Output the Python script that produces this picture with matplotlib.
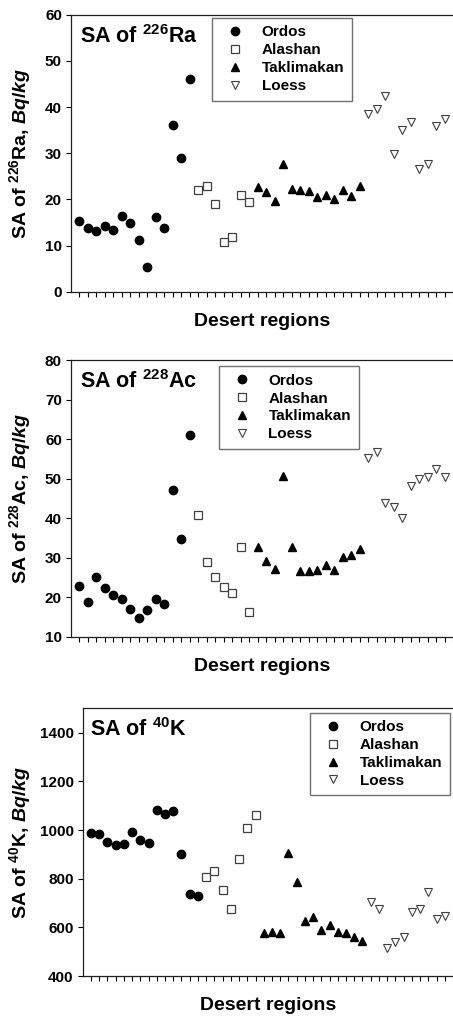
import numpy as np
import matplotlib
matplotlib.use("Agg")
import matplotlib.pyplot as plt

plt.rcParams['font.family'] = ['Liberation Sans', 'DejaVu Sans']
plt.rcParams['font.weight'] = 'bold'
plt.rcParams['mathtext.fontset'] = 'custom'
plt.rcParams['mathtext.default'] = 'bf'
plt.rcParams['mathtext.bf'] = 'Liberation Sans:bold'
plt.rcParams['mathtext.it'] = 'Liberation Sans:italic:bold'
plt.rcParams['mathtext.rm'] = 'Liberation Sans:bold'

groups = ['Ordos', 'Alashan', 'Taklimakan', 'Loess']

# SA of 226Ra
ra_ordos = [15.4, 13.7, 13.2, 14.2, 13.4, 16.5, 14.9, 11.2, 5.3, 16.2, 13.7, 36.2, 28.9, 46.1]
ra_alashan = [22.1, 23.0, 19.0, 10.8, 11.8, 21.0, 19.4]
ra_takli = [22.6, 21.5, 19.6, 27.6, 22.3, 22.1, 21.9, 20.5, 20.9, 20.0, 22.1, 20.7, 23.0]
ra_loess = [38.5, 39.5, 42.5, 29.8, 35.1, 36.8, 26.5, 27.7, 36.0, 37.4]

# SA of 228Ac
ac_ordos = [22.7, 18.8, 25.1, 22.2, 20.6, 19.4, 17.1, 14.7, 16.8, 19.5, 18.3, 47.1, 34.8, 61.0]
ac_alashan = [40.9, 28.8, 25.1, 22.5, 21.1, 32.8, 16.3]
ac_takli = [32.6, 29.2, 27.0, 50.7, 32.7, 26.5, 26.5, 26.8, 28.1, 26.9, 30.1, 30.7, 32.1]
ac_loess = [55.3, 56.6, 43.7, 42.7, 40.1, 48.2, 49.9, 50.5, 52.3, 50.5]

# SA of 40K
k_ordos = [986, 985, 949, 938, 942, 992, 958, 948, 1082, 1066, 1077, 903, 736, 729]
k_alashan = [808, 832, 753, 675, 882, 1008, 1062]
k_takli = [575, 582, 575, 905, 786, 627, 644, 588, 608, 582, 577, 560, 545]
k_loess = [703, 677, 515, 541, 562, 662, 677, 747, 633, 645]

styles = [
    dict(marker='o', color='black', mfc='black', mec='black', ms=6),
    dict(marker='s', color='#404040', mfc='white', mec='#404040', ms=5.2, mew=0.9),
    dict(marker='^', color='black', mfc='black', mec='black', ms=6),
    dict(marker='v', color='#404040', mfc='white', mec='#404040', ms=6, mew=0.8),
]

panels = [
    dict(data=[ra_ordos, ra_alashan, ra_takli, ra_loess], ylim=(0, 60), yticks=np.arange(0, 61, 10),
         title=r'SA of $^{226}$Ra', ylabel=r'SA of $^{226}$Ra, $\mathit{Bq/kg}$',
         rect=[71 / 453, 0.7132, 382 / 453, 0.2723], xmax=44.6, leg=(0.369, 0.989),
         tpos=(0.024, 0.898), ylab_x=-0.10),
    dict(data=[ac_ordos, ac_alashan, ac_takli, ac_loess], ylim=(10, 80), yticks=np.arange(10, 81, 10),
         title=r'SA of $^{228}$Ac', ylabel=r'SA of $^{228}$Ac, $\mathit{Bq/kg}$',
         rect=[71 / 453, 0.374, 382 / 453, 0.272], xmax=44.6, leg=(0.387, 0.978),
         tpos=(0.024, 0.898), ylab_x=-0.10),
    dict(data=[k_ordos, k_alashan, k_takli, k_loess], ylim=(400, 1500), yticks=np.arange(400, 1401, 200),
         title=r'SA of $^{40}$K', ylabel=r'SA of $^{40}$K, $\mathit{Bq/kg}$',
         rect=[82.7 / 453, 0.0403, 370.3 / 453, 0.2632], xmax=44.8, leg=(0.614, 0.9836),
         tpos=(0.020, 0.896), ylab_x=-0.134),
]

fig = plt.figure(figsize=(4.53, 10.17), dpi=100)

for p in panels:
    ax = fig.add_axes(p['rect'])
    start = 1
    for vals, name, st in zip(p['data'], groups, styles):
        x = np.arange(start, start + len(vals))
        ax.plot(x, vals, linestyle='none', label=name, **st)
        start += len(vals)
    ax.set_xlim(0, p['xmax'])
    ax.set_ylim(*p['ylim'])
    ax.set_yticks(p['yticks'])
    ax.set_xticks(np.arange(1, 46))
    ax.set_xticklabels([])
    ax.tick_params(axis='x', length=3.5, width=0.8, direction='out')
    ax.tick_params(axis='y', length=3.5, width=0.8, direction='out', pad=3, labelsize=11)
    for lab in ax.get_yticklabels():
        lab.set_fontweight('bold')
    ax.spines['right'].set_visible(False)
    for s in ['left', 'bottom', 'top']:
        ax.spines[s].set_linewidth(0.9)
        ax.spines[s].set_color('#202020')
    ax.set_xlabel('Desert regions', fontsize=14, fontweight='bold', va='top')
    ax.xaxis.set_label_coords(0.5, -0.078)
    ax.set_ylabel(p['ylabel'], fontsize=14, fontweight='bold')
    ax.yaxis.set_label_coords(p['ylab_x'], 0.5)
    ax.text(p['tpos'][0], p['tpos'][1], p['title'], transform=ax.transAxes,
            fontsize=15.5, fontweight='bold', va='baseline', ha='left')
    leg = ax.legend(loc='upper left', bbox_to_anchor=p['leg'], borderaxespad=0,
                    prop=dict(weight='bold', size=11), frameon=True, fancybox=False,
                    framealpha=1, edgecolor='#707070', borderpad=0.5, labelspacing=0.25,
                    handlelength=2.0, handletextpad=0.75, numpoints=1)
    leg.get_frame().set_linewidth(1.0)

fig.savefig('out.png', dpi=100)
